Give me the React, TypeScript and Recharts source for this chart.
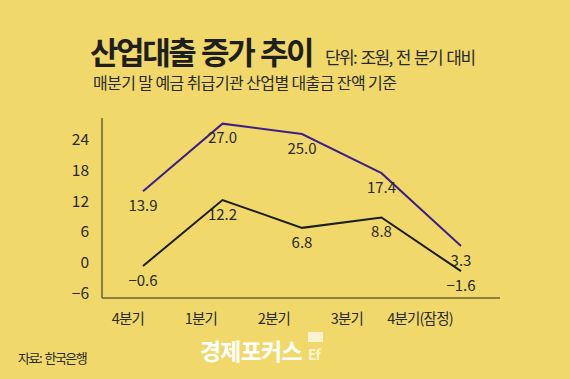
import { LineChart, Line, XAxis, YAxis, LabelList } from "recharts";

const quarters = ["4분기", "1분기", "2분기", "3분기", "4분기(잠정)"];
const upperSeries = [13.9, 27.0, 25.0, 17.4, 3.3];
const lowerSeries = [-0.6, 12.2, 6.8, 8.8, -1.6];
const yTicks = [-6, 0, 6, 12, 18, 24];

const BG = "#f0d96a";
const PURPLE = "#3d1f8a";
const DARK = "#1c1c1c";
const AXIS = "#6e6230";
const TEXT = "#2a2a2a";
const FONT = "'Noto Sans CJK KR', 'Noto Sans', sans-serif";

const data = quarters.map((q, i) => ({
  q,
  upper: upperSeries[i],
  lower: lowerSeries[i],
}));

const fmt = (v: any) => {
  const n = Number(v);
  return n < 0 ? `−${Math.abs(n).toFixed(1)}` : n.toFixed(1);
};

// tick labels sit a little left of the points, drifting more on the right
function XTick(props: any) {
  const { x, y, payload, index } = props;
  return (
    <text
      x={x - 15 - 6.5 * index}
      y={y}
      dy="0.71em"
      textAnchor="middle"
      fill={TEXT}
      fontSize={14.5}
      fontFamily={FONT}
      letterSpacing={-0.8}
    >
      {payload.value}
    </text>
  );
}

export default function App() {
  return (
    <div
      style={{
        position: "absolute",
        left: 0,
        top: 0,
        width: 570,
        height: 379,
        background: BG,
        overflow: "hidden",
      }}
    >
      <LineChart
        width={570}
        height={379}
        data={data}
        margin={{ top: 118, right: 70, bottom: 51, left: 0 }}
      >
        <XAxis
          dataKey="q"
          type="category"
          padding={{ left: 41, right: 39 }}
          stroke={AXIS}
          strokeWidth={1.5}
          tickLine={false}
          tickSize={0}
          tickMargin={16}
          height={30}
          interval={0}
          tick={<XTick />}
        />
        <YAxis
          domain={[-6.8, 28.1]}
          ticks={yTicks}
          width={102}
          stroke={AXIS}
          strokeWidth={1.5}
          tickLine={false}
          tickSize={0}
          tickMargin={13}
          tickFormatter={(v) => (v < 0 ? `−${Math.abs(v)}` : String(v))}
          tick={{ fill: TEXT, fontSize: 15.5, fontFamily: FONT }}
          allowDataOverflow
        />
        <Line
          dataKey="upper"
          type="linear"
          stroke={PURPLE}
          strokeWidth={2}
          dot={false}
          isAnimationActive={false}
        >
          <LabelList
            dataKey="upper"
            position="bottom"
            offset={9}
            formatter={fmt}
            style={{ fill: TEXT, fontSize: 15, fontFamily: FONT }}
          />
        </Line>
        <Line
          dataKey="lower"
          type="linear"
          stroke={DARK}
          strokeWidth={2}
          dot={false}
          isAnimationActive={false}
        >
          <LabelList
            dataKey="lower"
            position="bottom"
            offset={9}
            formatter={fmt}
            style={{ fill: TEXT, fontSize: 15, fontFamily: FONT }}
          />
        </Line>
      </LineChart>

      <svg
        width={570}
        height={379}
        style={{ position: "absolute", left: 0, top: 0, pointerEvents: "none" }}
      >
        <text
          x={90}
          y={64}
          fontSize={31}
          fontWeight={700}
          fontFamily={FONT}
          fill="#1f1f1f"
          letterSpacing={-2.4}
          wordSpacing={2}
        >
          산업대출 증가 추이
        </text>
        <text
          x={325}
          y={64}
          fontSize={17}
          fontFamily={FONT}
          fill={TEXT}
          letterSpacing={-1.6}
          wordSpacing={2}
        >
          단위: 조원, 전 분기 대비
        </text>
        <text
          x={93}
          y={89}
          fontSize={16}
          fontFamily={FONT}
          fill={TEXT}
          letterSpacing={-0.6}
        >
          매분기 말 예금 취급기관 산업별 대출금 잔액 기준
        </text>
        <text
          x={18}
          y={363}
          fontSize={13}
          fontFamily={FONT}
          fill={TEXT}
          letterSpacing={-1.5}
          wordSpacing={2}
        >
          자료: 한국은행
        </text>
        <text
          x={200}
          y={360}
          fontSize={23}
          fontWeight={700}
          fontFamily={FONT}
          fill="#ffffff"
          letterSpacing={-0.8}
        >
          경제포커스
        </text>
        <rect x={308} y={332} width={15} height={10} fill="#fbf3d0" />
        <text
          x={308}
          y={360}
          fontSize={14}
          fontWeight={700}
          fontFamily={FONT}
          fill="#fbf3d0"
          letterSpacing={-1}
        >
          Ef
        </text>
      </svg>
    </div>
  );
}
